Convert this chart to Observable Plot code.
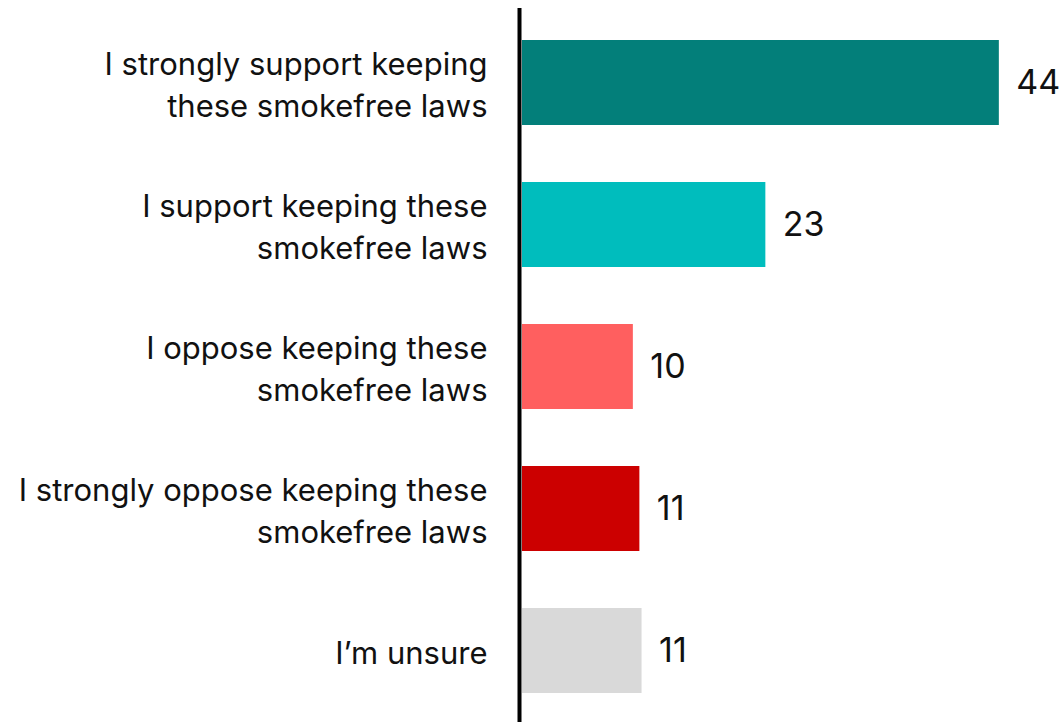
<!DOCTYPE html>
<html>
<head>
<meta charset="utf-8">
<script src="https://cdn.jsdelivr.net/npm/d3@7"></script>
<script src="https://cdn.jsdelivr.net/npm/@observablehq/plot@0.6"></script>
<style>
  html, body { margin: 0; padding: 0; background: #fff; }
  #chart svg { display: block; }
</style>
</head>
<body>
<div id="chart"></div>
<script>
const categories = [
  "I strongly support keeping\nthese smokefree laws",
  "I support keeping these\nsmokefree laws",
  "I oppose keeping these\nsmokefree laws",
  "I strongly oppose keeping these\nsmokefree laws",
  "I\u2019m unsure"
];
const values = [44, 22.5, 10.3, 10.9, 11.1];
const shownLabels = ["44", "23", "10", "11", "11"];
const colors = ["#037f7a", "#00bdbd", "#ff5f5f", "#cc0000", "#d9d9d9"];

const data = categories.map((c, i) => ({category: c, value: values[i], label: shownLabels[i], color: colors[i]}));

const chart = Plot.plot({
  width: 1064,
  height: 722,
  marginLeft: 521,
  marginRight: 0,
  marginTop: 11,
  marginBottom: 0,
  style: {fontFamily: "Inter, sans-serif", background: "#fff"},
  x: {domain: [0, 50], axis: null},
  y: {domain: categories, paddingInner: 0.4, paddingOuter: 0.2, label: null},
  marks: [
    Plot.barX(data, {x: "value", y: "category", fill: "color", insetLeft: 1}),
    Plot.text(data, {x: "value", y: "category", text: "label", dx: 17, textAnchor: "start", fontSize: 34, fill: "#111"}),
    Plot.axisY({tickSize: 0, tickPadding: 34, fontSize: 31, lineHeight: 1.35, textAnchor: "end", fill: "#111", label: null}),
    Plot.ruleX([0], {stroke: "#000", strokeWidth: 4, insetTop: -3, dx: -2})
  ]
});
document.getElementById("chart").append(chart);
</script>
</body>
</html>
